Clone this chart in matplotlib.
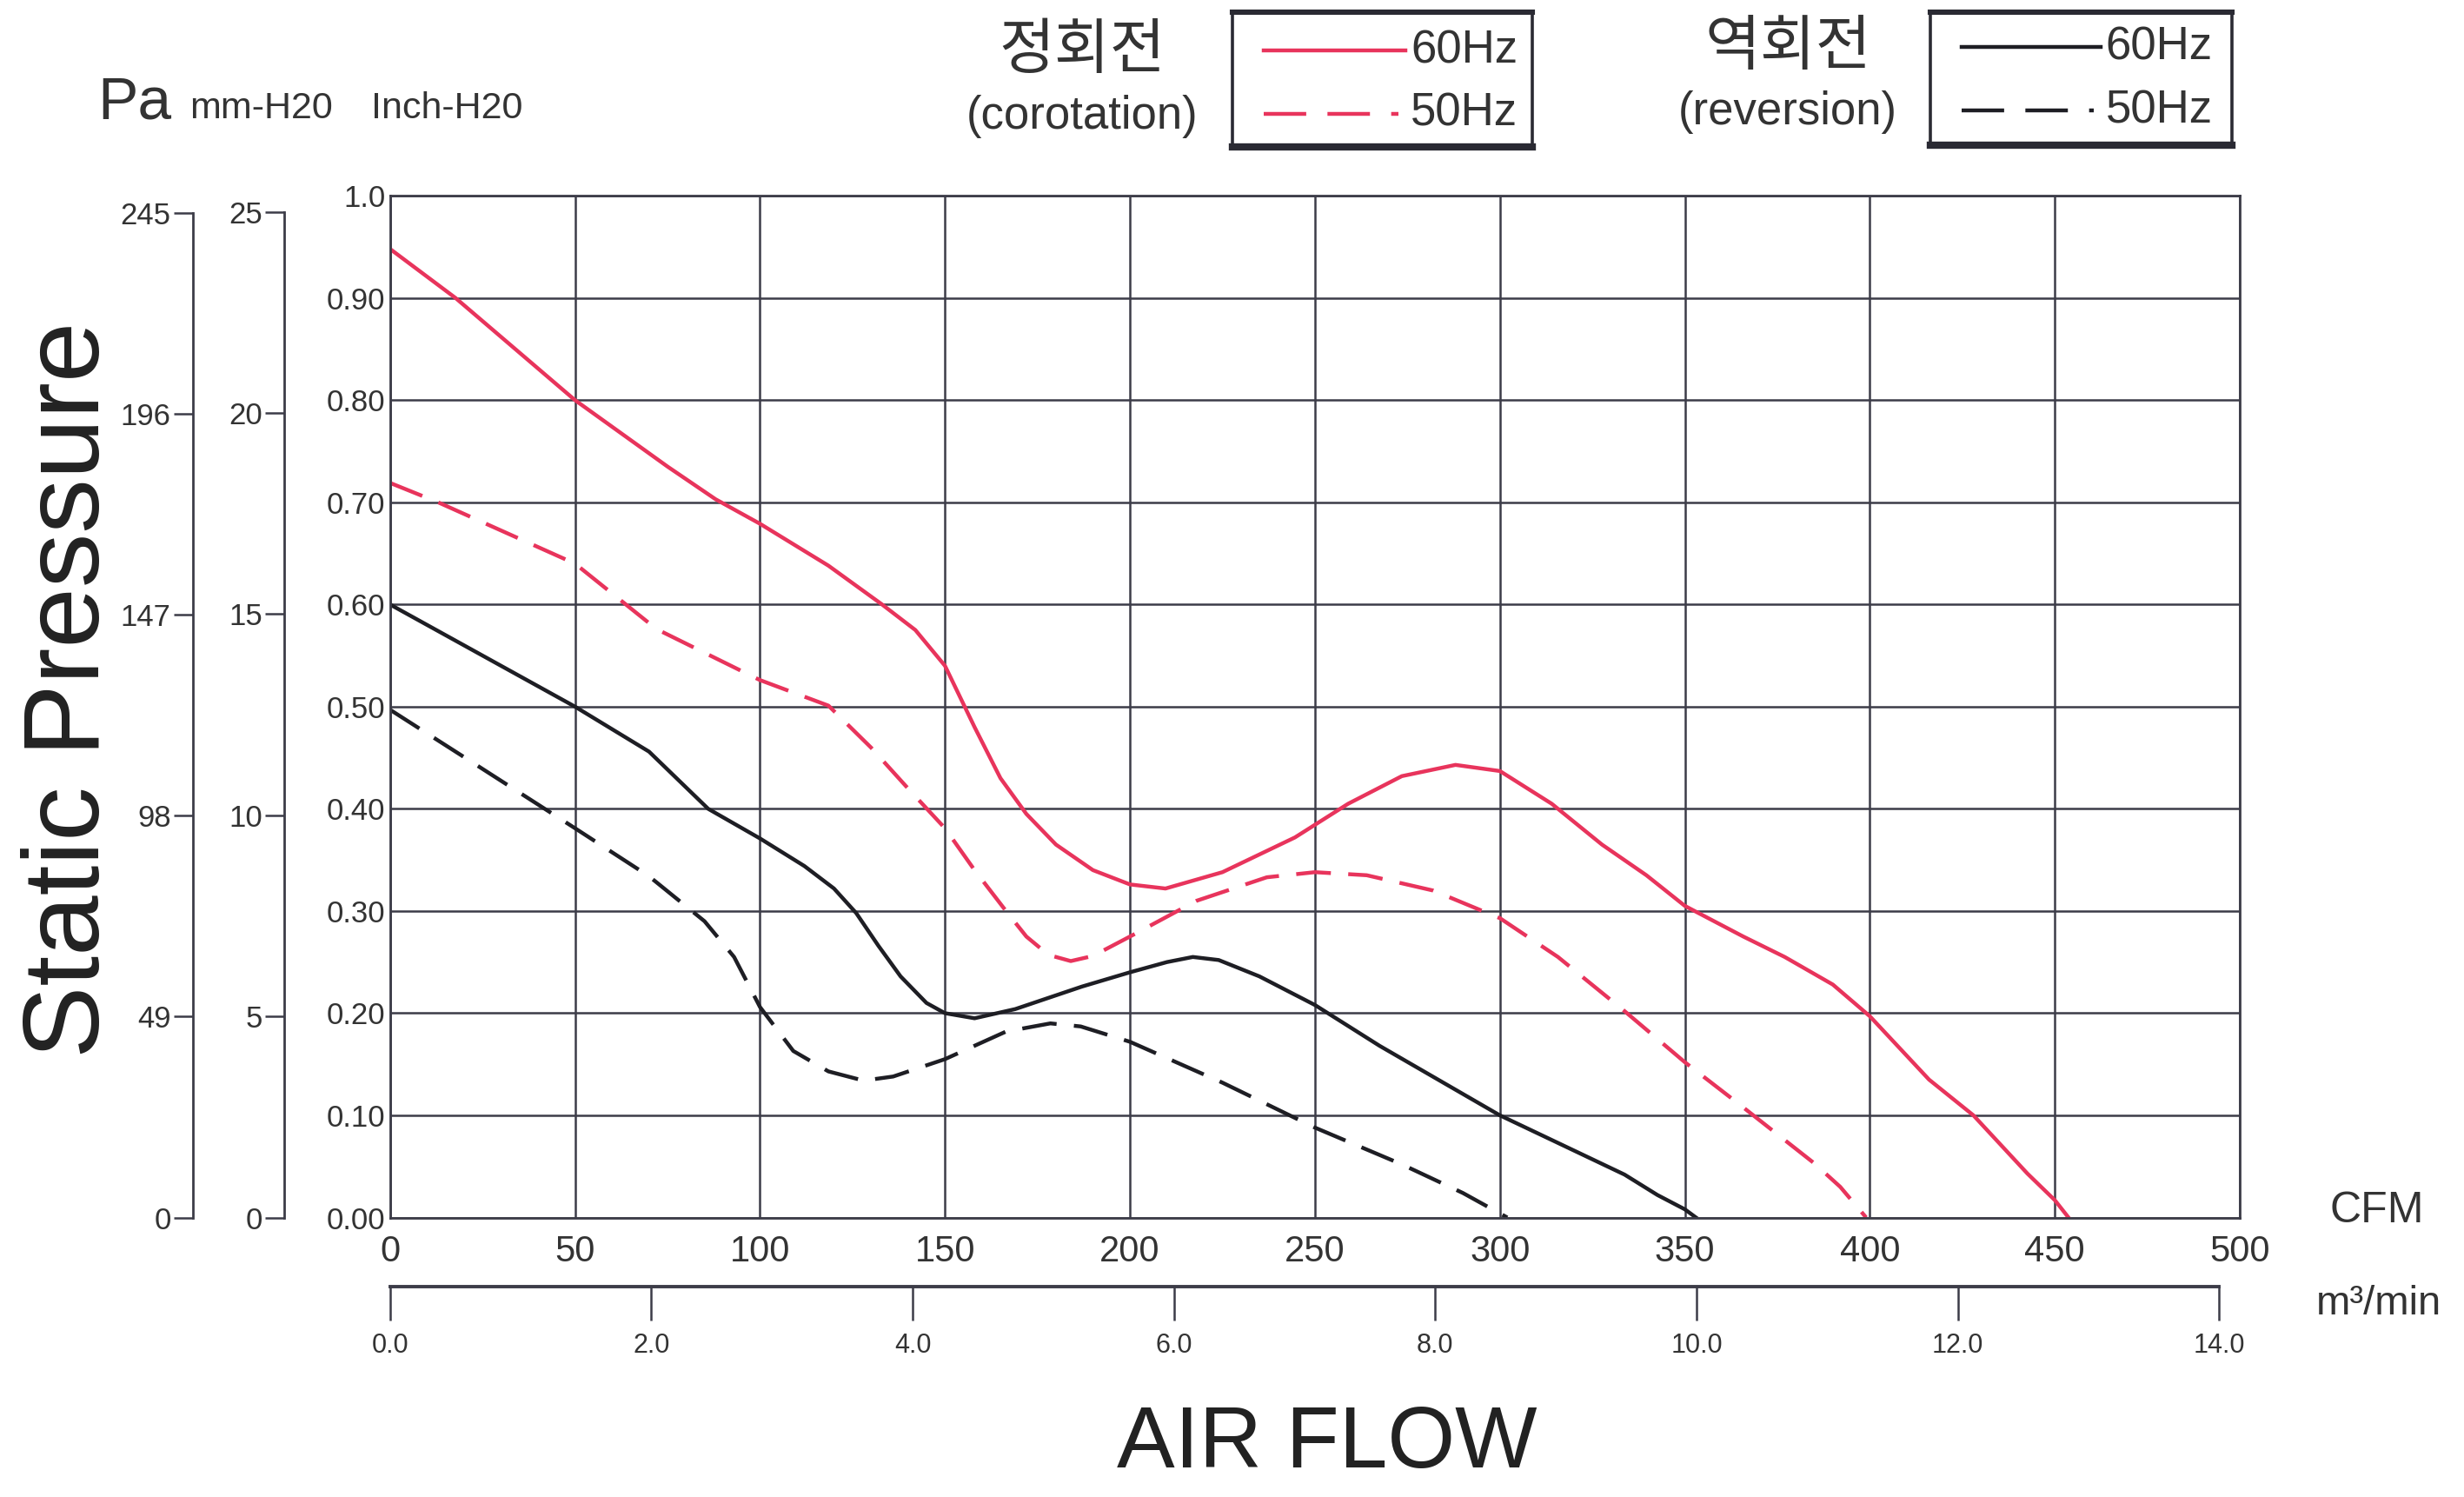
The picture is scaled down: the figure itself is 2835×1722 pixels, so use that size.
import matplotlib
matplotlib.use('Agg')
import matplotlib.pyplot as plt
from matplotlib import font_manager
from matplotlib.lines import Line2D
from matplotlib.patches import Rectangle


# fan curve data, CFM vs static pressure (inch-H2O)
co60_cfm = [0, 17.7, 50, 75, 88, 100, 118.5, 133, 142, 150, 158, 165, 172, 180, 190, 200, 209.6, 225, 244.6,
            259, 273.5, 288, 300, 314, 327.6, 339.6, 350, 365.8, 377, 390, 400, 416, 428, 442.6, 450, 453.7]
co60_p = [0.948, 0.90, 0.80, 0.735, 0.703, 0.679, 0.638, 0.60, 0.575, 0.54, 0.48, 0.43, 0.395, 0.365, 0.34, 0.326,
          0.322, 0.338, 0.372, 0.405, 0.432, 0.443, 0.437, 0.405, 0.365, 0.335, 0.305, 0.275, 0.255, 0.228, 0.197,
          0.135, 0.10, 0.043, 0.017, 0.0]

co50_cfm = [0, 13, 50, 72, 100, 118.5, 130, 140, 150, 158, 166.5, 172, 178, 184, 190, 200, 218, 237, 250,
            264, 282, 300, 315.7, 333.7, 350, 365, 385, 392, 399]
co50_p = [0.719, 0.70, 0.64, 0.576, 0.526, 0.501, 0.46, 0.42, 0.381, 0.34, 0.30, 0.275, 0.257, 0.251, 0.256, 0.275,
          0.31, 0.333, 0.338, 0.335, 0.32, 0.293, 0.255, 0.202, 0.152, 0.11, 0.053, 0.03, 0.0]

rev60_cfm = [0, 50, 70, 86, 100, 112, 120, 126, 132, 138, 145, 150, 158, 169, 187, 200, 210, 217, 224,
             235, 250, 267.5, 300, 315.7, 333.7, 342.6, 350, 353]
rev60_p = [0.60, 0.50, 0.456, 0.40, 0.371, 0.344, 0.322, 0.298, 0.266, 0.236, 0.21, 0.20, 0.195, 0.204, 0.226, 0.24,
           0.25, 0.255, 0.252, 0.236, 0.208, 0.168, 0.10, 0.073, 0.042, 0.022, 0.008, 0.0]

rev50_cfm = [0, 24.6, 50, 70, 85, 93, 100, 109, 118.5, 128, 136, 150, 166.5, 178.5, 186.7, 200, 225,
             250, 273.5, 290, 302]
rev50_p = [0.497, 0.44, 0.381, 0.334, 0.29, 0.255, 0.206, 0.163, 0.143, 0.134, 0.138, 0.155, 0.182, 0.19, 0.187,
           0.172, 0.132, 0.088, 0.052, 0.024, 0.0]

cfm_ticks = [0, 50, 100, 150, 200, 250, 300, 350, 400, 450, 500]
inch_ticks = [0.0, 0.1, 0.2, 0.3, 0.4, 0.5, 0.6, 0.7, 0.8, 0.9, 1.0]
inch_labels = ['0.00', '0.10', '0.20', '0.30', '0.40', '0.50', '0.60', '0.70', '0.80', '0.90', '1.0']
pa_ticks = [0, 49, 98, 147, 196, 245]
mm_ticks = [0, 5, 10, 15, 20, 25]
m3_ticks = [0, 2, 4, 6, 8, 10, 12, 14]

names = {f.name for f in font_manager.fontManager.ttflist}
SANS = 'Liberation Sans'
NARROW = 'Liberation Sans Narrow' if 'Liberation Sans Narrow' in names else 'Liberation Sans'
KR = 'Noto Sans CJK KR'

RED = '#e8345c'
BLACK = '#1e1e24'
GRID = '#3c3c48'


def side_axis(fig, x, top, ticks, bound):
    a = fig.add_axes([x, 0.1867, 0.0005, 0.6825])
    a.set_facecolor('none')
    a.set_ylim(0, top)
    for s in ['top', 'right', 'bottom']:
        a.spines[s].set_visible(False)
    a.spines['left'].set_bounds(0, bound)
    a.spines['left'].set_color(GRID)
    a.spines['left'].set_linewidth(1.0)
    a.set_xticks([])
    a.set_yticks(ticks)
    a.set_yticklabels([str(t) for t in ticks], fontfamily=SANS, fontsize=12.5, color='#333333')
    a.tick_params(axis='y', length=8, width=0.9, pad=1, color=GRID)
    return a


def legend_box(fig, title_kr, title_en, x0, x1, y0, y1, tx, ty_kr, ty_en, lx0, lx1, ly_top, ly_bot, color):
    fig.text(tx, ty_kr, title_kr, family=KR, fontsize=25, ha='center', va='center', color='#333333')
    fig.text(tx, ty_en, title_en, family=NARROW, fontsize=19, ha='center', va='center', color='#333333')
    fig.add_artist(Rectangle((x0, y0), x1 - x0, y1 - y0, transform=fig.transFigure,
                             fill=False, ec='#2a2a33', lw=1.3))
    fig.add_artist(Line2D([x0, x1], [y0, y0], transform=fig.transFigure, color='#2a2a33', lw=3.0))
    fig.add_artist(Line2D([x0, x1], [y1, y1], transform=fig.transFigure, color='#2a2a33', lw=2.2))
    fig.add_artist(Line2D([lx0, lx1], [ly_top, ly_top], transform=fig.transFigure, color=color, lw=1.6))
    fig.add_artist(Line2D([lx0, lx1 - 0.003], [ly_bot, ly_bot], transform=fig.transFigure, color=color,
                          lw=1.6, dashes=(11, 5.5)))
    fig.text(lx1 + 0.002, ly_top, '60Hz', family=NARROW, fontsize=19, va='center', color='#333333')
    fig.text(lx1 + 0.002, ly_bot, '50Hz', family=NARROW, fontsize=19, va='center', color='#333333')


def fan_chart():
    fig = plt.figure(figsize=(14.175, 8.61), dpi=200)

    ax = fig.add_axes([0.1583, 0.1867, 0.7507, 0.6825])
    ax.plot(co60_cfm, co60_p, color=RED, lw=1.6, solid_joinstyle='round')
    ax.plot(co50_cfm, co50_p, color=RED, lw=1.6, dashes=(9, 4.5))
    ax.plot(rev60_cfm, rev60_p, color=BLACK, lw=1.6, solid_joinstyle='round')
    ax.plot(rev50_cfm, rev50_p, color=BLACK, lw=1.6, dashes=(9, 4.5))
    ax.set_xlim(0, 500)
    ax.set_ylim(0, 1.0)
    ax.set_xticks(cfm_ticks)
    ax.set_xticklabels([str(t) for t in cfm_ticks], fontfamily=NARROW, fontsize=15, color='#333333')
    ax.set_yticks(inch_ticks)
    ax.set_yticklabels(inch_labels, fontfamily=SANS, fontsize=12.5, color='#333333')
    ax.tick_params(axis='x', length=0, pad=7)
    ax.tick_params(axis='y', length=0, pad=2)
    ax.grid(True, color=GRID, lw=0.9)
    ax.set_axisbelow(True)
    for s in ax.spines.values():
        s.set_color(GRID)
        s.set_linewidth(1.0)

    side_axis(fig, 0.0782, 249.09, pa_ticks, 245)
    side_axis(fig, 0.1154, 25.4, mm_ticks, 25)

    # m3/min scale under the CFM one
    am = fig.add_axes([0.1583, 0.1403, 0.7507, 0.0005])
    am.set_facecolor('none')
    am.set_xlim(0, 500 / 35.3147)
    am.set_yticks([])
    for s in ['top', 'right', 'left']:
        am.spines[s].set_visible(False)
    am.spines['bottom'].set_bounds(0, 14)
    am.spines['bottom'].set_color(GRID)
    am.spines['bottom'].set_linewidth(1.4)
    am.set_xticks(m3_ticks)
    am.set_xticklabels(['%.1f' % t for t in m3_ticks], fontfamily=NARROW, fontsize=11, color='#333333')
    am.tick_params(axis='x', length=14, width=0.9, pad=5, color=GRID)

    fig.text(0.9647, 0.191, 'CFM', family=NARROW, fontsize=18, ha='center', va='center', color='#333333')
    fig.text(0.9654, 0.1287, 'm³/min', family=NARROW, fontsize=17, ha='center', va='center', color='#333333')
    fig.text(0.5385, 0.035, 'AIR FLOW', family=SANS, fontsize=36, ha='center', va='center', color='#222222')
    fig.text(0.0288, 0.539, 'Static Pressure', family=SANS, fontsize=45, rotation=90,
             ha='center', va='center', color='#222222')
    fig.text(0.0397, 0.921, 'Pa', family=SANS, fontsize=25, va='baseline', color='#333333')
    fig.text(0.0769, 0.921, 'mm-H20', family=NARROW, fontsize=15.5, va='baseline', color='#333333')
    fig.text(0.1506, 0.921, 'Inch-H20', family=NARROW, fontsize=15.5, va='baseline', color='#333333')

    legend_box(fig, '정회전', '(corotation)', 0.5, 0.6218, 0.9019, 0.9916, 0.4391, 0.9662, 0.9219,
               0.5128, 0.5705, 0.9662, 0.924, RED)
    legend_box(fig, '역회전', '(reversion)', 0.7833, 0.9058, 0.9030, 0.9916, 0.7256, 0.9684, 0.9251,
               0.7962, 0.8526, 0.9684, 0.9262, BLACK)

    fig.savefig('out.png', dpi=200, facecolor='white')


def main():
    fan_chart()


if __name__ == '__main__':
    main()
